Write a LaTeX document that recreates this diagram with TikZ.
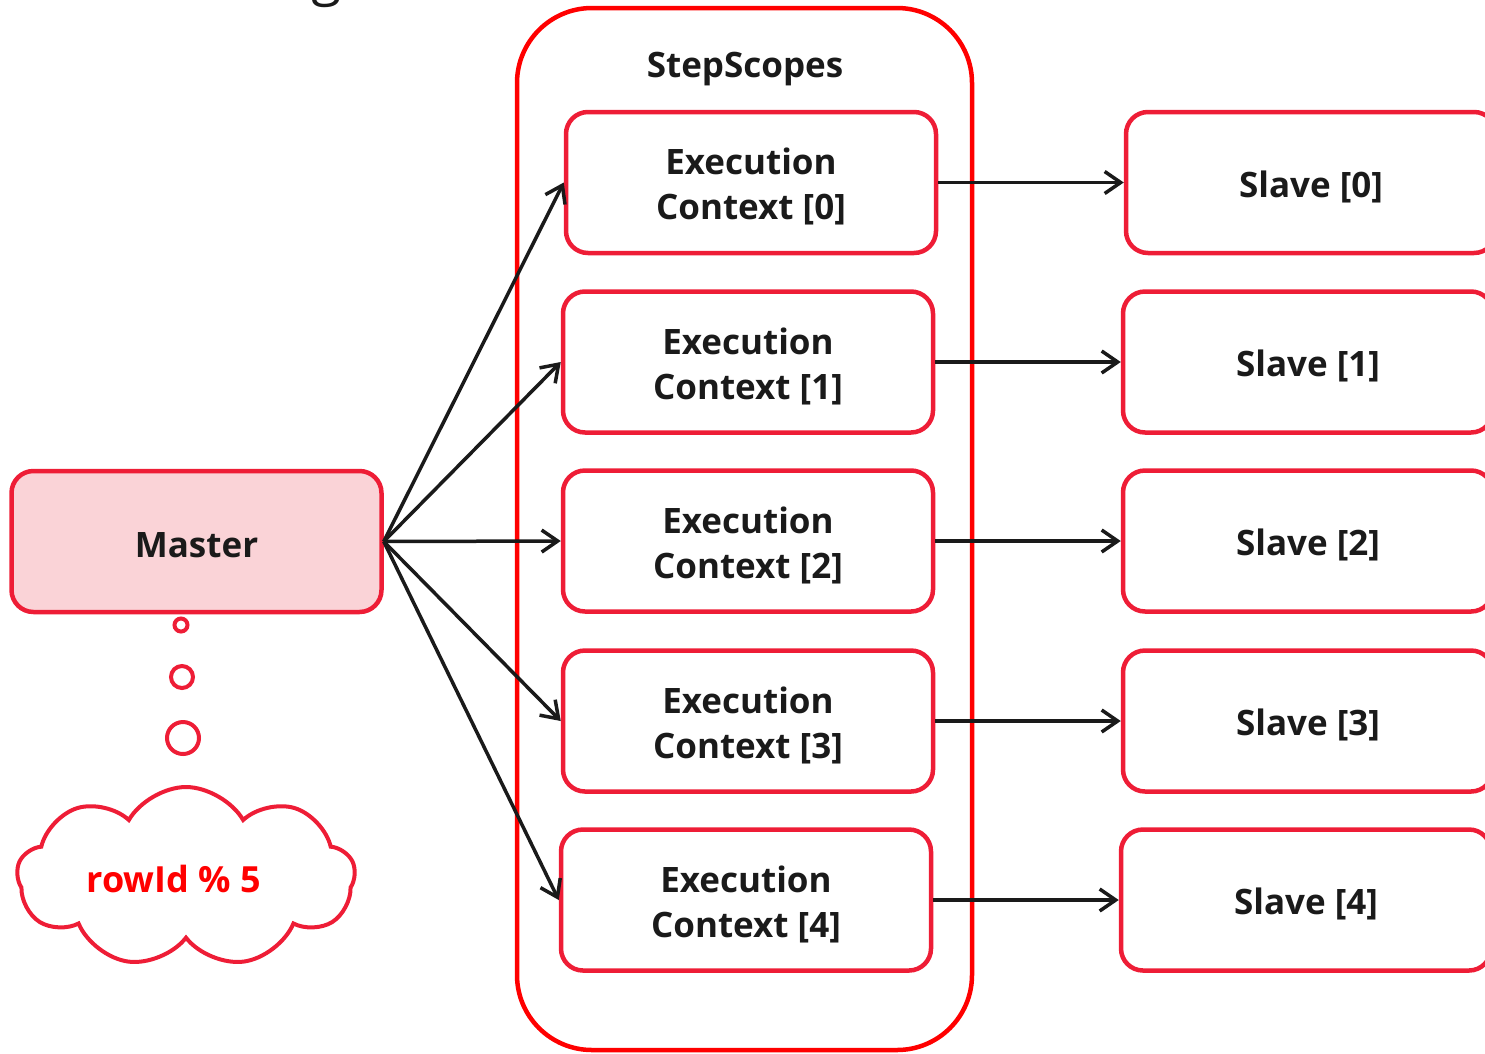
\documentclass[tikz,border=0pt]{standalone}
\usepackage{fontspec}
\setmainfont{Open Sans}
\usetikzlibrary{arrows.meta,shapes.symbols}
\definecolor{boxred}{HTML}{EE1D36}
\definecolor{purered}{HTML}{FF0000}
\definecolor{pinkfill}{HTML}{FAD3D7}
\definecolor{ink}{HTML}{1A1A1A}
\begin{document}
\begin{tikzpicture}[x=1pt,y=-1pt,
  txt/.style={font=\fontsize{35}{45}\selectfont\bfseries, text=ink, align=center},
  box/.style={draw=boxred, line width=4.5pt, rounded corners=22pt,
    minimum width=370pt, minimum height=141pt, inner sep=0pt},
  boxtext/.style={label={[txt, yshift=-4pt]center:#1}},
  container/.style={draw=purered, line width=4.5pt, rounded corners=75pt,
    minimum width=455pt, minimum height=1042pt, inner sep=0pt},
  conn/.style={draw=ink, line width=3.5pt,
    -{Straight Barb[length=16pt,width=22pt,line width=3.5pt]}},
  bubble/.style={draw=boxred, line width=4pt, circle, inner sep=0pt, fill=white}
]
\useasboundingbox (0,0) rectangle (1485,1053);

\node[font=\fontsize{55}{60}\selectfont, text=ink, anchor=base] (gtitle) at (327,-6) {g};

\node[container] (scope) at (744.5,529) {};
\node[txt, anchor=center] (sslabel) at (745,69) {StepScopes};

\node[box, fill=pinkfill, boxtext={Master}] (master) at (196.5,541.5) {};

\node[box, boxtext={Execution\\Context [0]}] (ec0) at (751,182.5) {};
\node[box, boxtext={Execution\\Context [1]}] (ec1) at (748,362) {};
\node[box, boxtext={Execution\\Context [2]}] (ec2) at (748,541) {};
\node[box, boxtext={Execution\\Context [3]}] (ec3) at (748,721) {};
\node[box, boxtext={Execution\\Context [4]}] (ec4) at (746,900) {};

\node[box, boxtext={Slave [0]}] (s0) at (1311,182.5) {};
\node[box, boxtext={Slave [1]}] (s1) at (1308,362) {};
\node[box, boxtext={Slave [2]}] (s2) at (1308,541) {};
\node[box, boxtext={Slave [3]}] (s3) at (1308,721) {};
\node[box, boxtext={Slave [4]}] (s4) at (1306,900) {};

\foreach \i in {0,...,4} {
  \draw[conn] (master.east) -- (ec\i.west);
  \draw[conn] (ec\i.east) -- (s\i.west);
}

\node[bubble, minimum size=13pt] (b1) at (181,625) {};
\node[bubble, minimum size=22pt] (b2) at (182,677) {};
\node[bubble, minimum size=32pt] (b3) at (183,738) {};

\node[cloud, cloud puffs=9, cloud puff arc=120, aspect=1.9, draw=boxred, line width=4pt,
  minimum width=338pt, minimum height=180pt, inner sep=0pt] (cloud) at (186,877) {};
\node[font=\fontsize{36}{40}\selectfont\bfseries, text=purered] (cloudtxt) at (174,879) {rowId \% 5};
\end{tikzpicture}
\end{document}
